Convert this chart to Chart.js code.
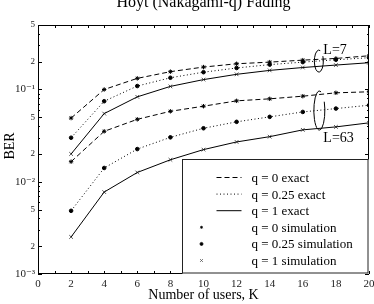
<!DOCTYPE html>
<html>
<head>
<meta charset="utf-8">
<script src="https://cdn.jsdelivr.net/npm/chart.js@4.4.1/dist/chart.umd.min.js"></script>
<style>
  html, body { margin: 0; padding: 0; background: #fff; }
  #wrap { width: 374px; height: 304px; }
</style>
</head>
<body>
<div id="wrap"><canvas id="berChart"></canvas></div>
<script>
// number of users
const users = [2, 4, 6, 8, 10, 12, 14, 16, 18, 20];
// BER, L = 7
const berL7q0 = [0.049, 0.100, 0.132, 0.156, 0.175, 0.190, 0.198, 0.208, 0.217, 0.232];
const berL7q025 = [0.030, 0.0746, 0.109, 0.134, 0.154, 0.171, 0.186, 0.198, 0.210, 0.221];
const berL7q1 = [0.020, 0.0548, 0.0832, 0.108, 0.128, 0.146, 0.161, 0.173, 0.184, 0.195];
// BER, L = 63
const berL63q0 = [0.0165, 0.0352, 0.0475, 0.058, 0.0659, 0.0753, 0.0792, 0.0846, 0.092, 0.0944];
const berL63q025 = [0.00484, 0.0141, 0.0226, 0.0303, 0.038, 0.0446, 0.0505, 0.0571, 0.0621, 0.0675];
const berL63q1 = [0.00252, 0.00773, 0.0126, 0.0173, 0.0223, 0.027, 0.0308, 0.0365, 0.0393, 0.0435];
const yTicks = [0.001, 0.002, 0.005, 0.01, 0.02, 0.05, 0.1, 0.2, 0.5];

const SERIF = '"Liberation Serif", "DejaVu Serif", serif';

function pts(vals) {
  return users.map((k, i) => ({ x: k, y: vals[i] }));
}

function sup(n) {
  const m = { '-': '\u207B', '0': '\u2070', '1': '\u00B9', '2': '\u00B2', '3': '\u00B3' };
  return String(n).split('').map(c => m[c] || c).join('');
}

function isPow(v) {
  const e = Math.log10(v);
  return Math.abs(e - Math.round(e)) < 1e-6;
}

const dashed = [5, 3];
const dotted = [1, 2.5];

function exact(label, vals, dash, inLegend) {
  return {
    label: label, data: pts(vals), showLine: true, borderColor: '#000',
    borderWidth: 1, borderDash: dash, pointRadius: 0, legend: inLegend
  };
}
function sim(label, vals, style, radius, inLegend) {
  return {
    label: label, data: pts(vals), showLine: false, pointStyle: style,
    pointRadius: radius, borderColor: style === 'crossRot' ? '#555' : '#000',
    backgroundColor: '#000', pointBorderWidth: 1, legend: inLegend
  };
}

const notes = [
  { text: 'L=7', x: 16.97, y: 0.203, rx: 4.5, ry: 11, dx: 4.5, dy: -7.5 },
  { text: 'L=63', x: 17.0, y: 0.0591, rx: 5.5, ry: 19.5, dx: 4, dy: 31 }
];

const decor = {
  id: 'decor',
  afterDatasetsDraw(chart) {
    const { ctx, chartArea: a, scales: { x, y } } = chart;
    ctx.save();
    ctx.strokeStyle = '#000';
    ctx.lineWidth = 1;
    ctx.setLineDash([]);

    // inward ticks
    ctx.beginPath();
    for (let k = 0; k <= 20; k++) {
      const px = Math.round(x.getPixelForValue(k)) + 0.5;
      ctx.moveTo(px, a.bottom); ctx.lineTo(px, a.bottom - 3);
      ctx.moveTo(px, a.top); ctx.lineTo(px, a.top + 3);
    }
    for (let e = -3; e <= -1; e++) {
      for (let m = 1; m <= 9; m++) {
        const v = m * Math.pow(10, e);
        if (v > 0.5 + 1e-9) break;
        const len = (m === 1 || m === 2 || m === 5) ? 4 : 2;
        const py = Math.round(y.getPixelForValue(v)) + 0.5;
        ctx.moveTo(a.left, py); ctx.lineTo(a.left + len, py);
        ctx.moveTo(a.right, py); ctx.lineTo(a.right - len, py);
      }
    }
    ctx.stroke();
    ctx.strokeRect(Math.round(a.left) + 0.5, Math.round(a.top) + 0.5,
      Math.round(a.right - a.left) - 1, Math.round(a.bottom - a.top) - 1);

    // ellipses with labels
    ctx.font = '14px ' + SERIF;
    ctx.fillStyle = '#000';
    ctx.textBaseline = 'alphabetic';
    notes.forEach(n => {
      const cx = x.getPixelForValue(n.x), cy = y.getPixelForValue(n.y);
      ctx.beginPath();
      ctx.ellipse(cx, cy, n.rx, n.ry, 0, -Math.PI * 0.15, Math.PI * 1.6, false);
      ctx.stroke();
      ctx.fillText(n.text, cx + n.dx, cy + n.dy);
    });

    // legend box
    const bx = Math.round(a.right - 187) + 0.5, by = Math.round(a.bottom - 115) + 0.5;
    ctx.fillStyle = '#fff';
    ctx.fillRect(bx, by, a.right - bx, a.bottom - by);
    ctx.strokeStyle = '#222';
    ctx.strokeRect(bx, by, a.right - bx - 1, a.bottom - by - 1);
    const items = chart.data.datasets.filter(d => d.legend);
    ctx.font = '13px ' + SERIF;
    ctx.textBaseline = 'middle';
    items.forEach((d, i) => {
      const ry = by + 18 + i * 16.6;
      ctx.strokeStyle = d.borderColor;
      ctx.fillStyle = '#000';
      if (d.showLine) {
        ctx.beginPath();
        ctx.setLineDash(d.borderDash || []);
        ctx.moveTo(bx + 34, ry); ctx.lineTo(bx + 59, ry);
        ctx.stroke();
        ctx.setLineDash([]);
      } else {
        ctx.lineWidth = 0.8;
        Chart.helpers.drawPoint(ctx, {
          pointStyle: d.pointStyle, radius: d.pointStyle === 'crossRot' ? 2 : 1.5, borderWidth: 0.8
        }, bx + 19, ry);
        ctx.lineWidth = 1;
      }
      ctx.fillStyle = '#000';
      ctx.fillText(d.label, bx + 69, ry + 1);
    });

    // title
    ctx.font = '16px ' + SERIF;
    ctx.textAlign = 'center';
    ctx.textBaseline = 'alphabetic';
    ctx.fillText('Hoyt (Nakagami-q) Fading', (a.left + a.right) / 2, 7);

    // y axis title
    ctx.font = '14px ' + SERIF;
    ctx.textBaseline = 'middle';
    ctx.translate(10, 146);
    ctx.rotate(-Math.PI / 2);
    ctx.fillText('BER', 0, 0);
    ctx.restore();
  }
};

new Chart(document.getElementById('berChart').getContext('2d'), {
  type: 'scatter',
  data: {
    datasets: [
      exact('q = 0 exact', berL7q0, dashed, true),
      exact('q = 0.25 exact', berL7q025, dotted, true),
      exact('q = 1 exact', berL7q1, [], true),
      exact('q = 0 exact', berL63q0, dashed, false),
      exact('q = 0.25 exact', berL63q025, dotted, false),
      exact('q = 1 exact', berL63q1, [], false),
      sim('q = 0 simulation', berL7q0, 'star', 2.2, true),
      sim('q = 0.25 simulation', berL7q025, 'circle', 1.8, true),
      sim('q = 1 simulation', berL7q1, 'crossRot', 2.6, true),
      sim('q = 0 simulation', berL63q0, 'star', 2.2, false),
      sim('q = 0.25 simulation', berL63q025, 'circle', 1.8, false),
      sim('q = 1 simulation', berL63q1, 'crossRot', 2.6, false)
    ]
  },
  options: {
    responsive: true,
    maintainAspectRatio: false,
    animation: false,
    layout: { padding: { top: 25, right: 3, left: 0, bottom: 0 } },
    plugins: { legend: { display: false }, tooltip: { enabled: false }, title: { display: false } },
    scales: {
      x: {
        type: 'linear', min: 0, max: 20,
        ticks: { stepSize: 2, color: '#222', padding: 4, font: { family: SERIF, size: 11 } },
        grid: { display: false, drawTicks: false },
        border: { display: false },
        title: { display: true, text: 'Number of users, K', color: '#000', padding: { top: 0, bottom: 0 }, font: { family: SERIF, size: 14 } },
        afterFit(s) { s.height = 30; s.paddingLeft = 0; s.paddingRight = 0; }
      },
      y: {
        type: 'logarithmic', min: 0.001, max: 0.5,
        afterBuildTicks(s) { s.ticks = yTicks.map(v => ({ value: v })); },
        ticks: {
          color: '#222', padding: 3,
          font: c => ({ family: SERIF, size: isPow(c.tick.value) ? 11 : 9 }),
          callback(v) {
            const e = Math.round(Math.log10(v));
            if (isPow(v)) return '10' + sup(e);
            return String(Math.round(v / Math.pow(10, Math.floor(Math.log10(v) + 1e-9))));
          }
        },
        grid: { display: false, drawTicks: false },
        border: { display: false },
        title: { display: false },
        afterFit(s) { s.width = 38; s.paddingTop = 0; s.paddingBottom = 0; }
      }
    }
  },
  plugins: [decor]
});
</script>
</body>
</html>
